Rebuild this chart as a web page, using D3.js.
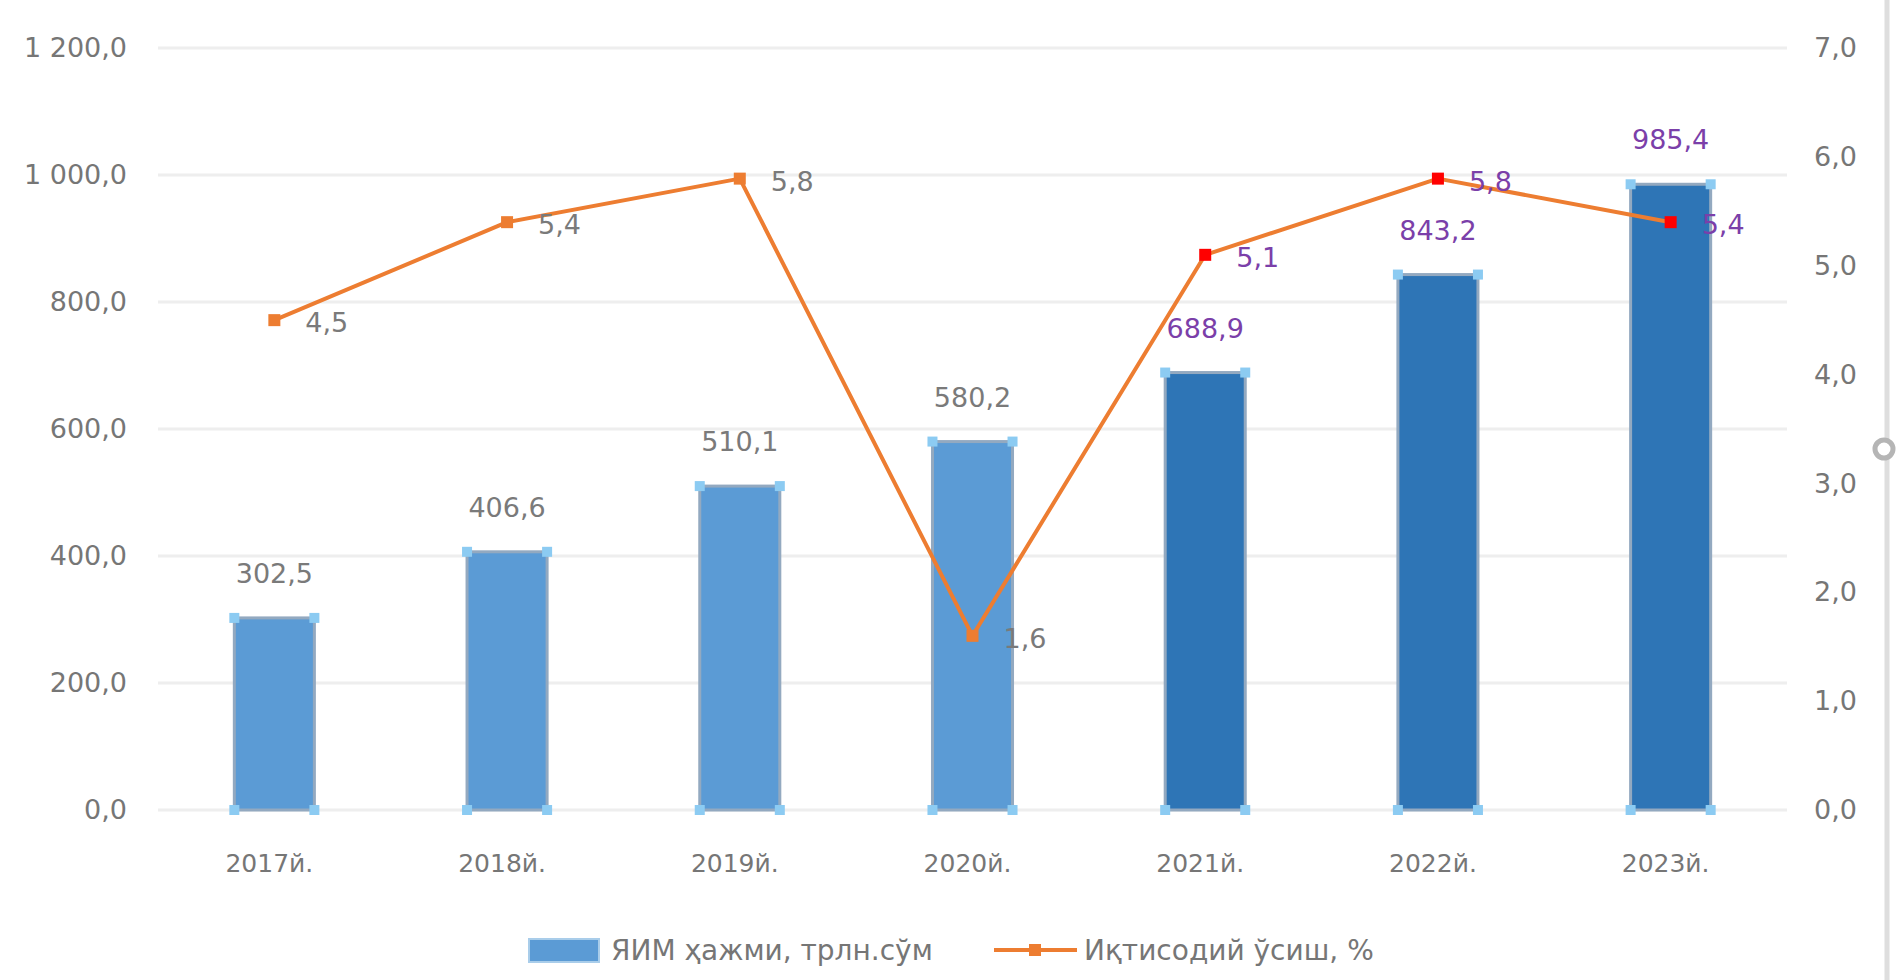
<!DOCTYPE html>
<html>
<head>
<meta charset="utf-8">
<script src="https://cdn.jsdelivr.net/npm/d3@7"></script>
<style>
  html, body { margin: 0; padding: 0; background: #ffffff; }
  svg { display: block; }
  text { font-family: "DejaVu Sans", "Liberation Sans", sans-serif; }
</style>
</head>
<body>
<svg id="chart" width="1896" height="980"></svg>
<script>
// ---- data ----
const categories = ["2017й.", "2018й.", "2019й.", "2020й.", "2021й.", "2022й.", "2023й."];
const gdpValues = [302.5, 406.6, 510.1, 580.2, 688.9, 843.2, 985.4];
const growthValues = [4.5, 5.4, 5.8, 1.6, 5.1, 5.8, 5.4];
const leftTicks = [0, 200, 400, 600, 800, 1000, 1200];
const rightTicks = [0, 1, 2, 3, 4, 5, 6, 7];
const seriesNames = ["ЯИМ ҳажми, трлн.сўм", "Иқтисодий ўсиш, %"];
const firstForecastIndex = 4;

// ---- layout ----
const W = 1896, H = 980;
const plot = { left: 158, right: 1787, top: 48, bottom: 810 };
const fmt = v => {
  const s = d3.format(",.1f")(v);
  return s.replace(/,/g, " ").replace(".", ",");
};
const fmt1 = v => d3.format(".1f")(v).replace(".", ",");

const svg = d3.select("#chart");

const x = d3.scaleBand().domain(categories)
  .range([plot.left, plot.right]).paddingInner(0.656).paddingOuter(0.328);
const y = d3.scaleLinear().domain([0, 1200]).range([plot.bottom, plot.top]);
const y2 = d3.scaleLinear().domain([0, 7]).range([plot.bottom, plot.top]);

const axisColor = "#767676";
const fontSize = 27;

// gridlines
svg.append("g").selectAll("line").data(leftTicks).join("line")
  .attr("x1", plot.left).attr("x2", plot.right)
  .attr("y1", d => y(d)).attr("y2", d => y(d))
  .attr("stroke", "#eeeeee").attr("stroke-width", 3);

// left axis
const leftAxis = d3.axisLeft(y).tickValues(leftTicks).tickFormat(fmt).tickSize(0).tickPadding(31);
const gl = svg.append("g").attr("transform", `translate(${plot.left},0)`).call(leftAxis);
gl.select(".domain").remove();
gl.selectAll("text").attr("font-size", fontSize).attr("fill", axisColor)
  .attr("font-family", "DejaVu Sans");

// right axis
const rightAxis = d3.axisRight(y2).tickValues(rightTicks).tickFormat(fmt1).tickSize(0).tickPadding(27);
const gr = svg.append("g").attr("transform", `translate(${plot.right},0)`).call(rightAxis);
gr.select(".domain").remove();
gr.selectAll("text").attr("font-size", fontSize).attr("fill", axisColor)
  .attr("font-family", "DejaVu Sans");

// bottom axis
const bottomAxis = d3.axisBottom(x).tickSize(0).tickPadding(44);
const gb = svg.append("g").attr("transform", `translate(0,${plot.bottom})`).call(bottomAxis);
gb.select(".domain").remove();
gb.selectAll("text").attr("font-size", 25).attr("fill", axisColor)
  .attr("font-family", "DejaVu Sans").attr("dx", -5);

// bars
const barColor = i => i >= firstForecastIndex ? "#2E75B6" : "#5B9BD5";
const bars = svg.append("g");
bars.selectAll("rect.bar").data(gdpValues).join("rect")
  .attr("class", "bar")
  .attr("x", (d, i) => x(categories[i]))
  .attr("y", d => y(d))
  .attr("width", x.bandwidth())
  .attr("height", d => y(0) - y(d))
  .attr("fill", (d, i) => barColor(i))
  .attr("stroke", "#93a9c0").attr("stroke-width", 3);

// selection-like corner handles
const corners = [];
gdpValues.forEach((d, i) => {
  const x0 = x(categories[i]), x1 = x0 + x.bandwidth();
  [[x0, y(d)], [x1, y(d)], [x0, y(0)], [x1, y(0)]].forEach(p => corners.push(p));
});
bars.selectAll("rect.handle").data(corners).join("rect")
  .attr("class", "handle")
  .attr("x", p => p[0] - 5).attr("y", p => p[1] - 5)
  .attr("width", 10).attr("height", 10)
  .attr("fill", "#8ccbf2");

// bar labels
const labelGray = "#7a7a7a";
const labelPurple = "#7b3fa9";
const labelColor = i => i >= firstForecastIndex ? labelPurple : labelGray;
svg.append("g").selectAll("text").data(gdpValues).join("text")
  .attr("x", (d, i) => x(categories[i]) + x.bandwidth() / 2)
  .attr("y", d => y(d) - 35)
  .attr("text-anchor", "middle")
  .attr("font-size", fontSize)
  .attr("fill", (d, i) => labelColor(i))
  .text(d => fmt(d));

// line
const cx = i => x(categories[i]) + x.bandwidth() / 2;
const line = d3.line().x((d, i) => cx(i)).y(d => y2(d));
svg.append("path").datum(growthValues)
  .attr("d", line).attr("fill", "none")
  .attr("stroke", "#ED7D31").attr("stroke-width", 4).attr("stroke-linejoin", "round");

// markers
svg.append("g").selectAll("rect").data(growthValues).join("rect")
  .attr("x", (d, i) => cx(i) - 6).attr("y", d => y2(d) - 6)
  .attr("width", 12).attr("height", 12)
  .attr("fill", (d, i) => i >= firstForecastIndex ? "#FF0000" : "#ED7D31");

// line labels
svg.append("g").selectAll("text").data(growthValues).join("text")
  .attr("x", (d, i) => cx(i) + 31)
  .attr("y", d => y2(d) + 12)
  .attr("font-size", fontSize)
  .attr("fill", (d, i) => labelColor(i))
  .text(d => fmt1(d));

// legend
const lg = svg.append("g");
lg.append("rect").attr("x", 529).attr("y", 939).attr("width", 70).attr("height", 23)
  .attr("fill", "#5B9BD5").attr("stroke", "#a9cdea").attr("stroke-width", 2);
lg.append("text").attr("x", 611).attr("y", 960).attr("font-size", 28)
  .attr("fill", axisColor).text(seriesNames[0]);
lg.append("line").attr("x1", 994).attr("x2", 1077).attr("y1", 950).attr("y2", 950)
  .attr("stroke", "#ED7D31").attr("stroke-width", 4);
lg.append("rect").attr("x", 1029).attr("y", 944).attr("width", 12).attr("height", 12)
  .attr("fill", "#ED7D31");
lg.append("text").attr("x", 1084).attr("y", 960).attr("font-size", 28)
  .attr("fill", axisColor).text(seriesNames[1]);

// right frame edge
svg.append("line").attr("x1", 1887).attr("x2", 1887).attr("y1", 0).attr("y2", H)
  .attr("stroke", "#dedede").attr("stroke-width", 5);
svg.append("circle").attr("cx", 1884).attr("cy", 449).attr("r", 9)
  .attr("fill", "#ffffff").attr("stroke", "#b5b5b5").attr("stroke-width", 5);
</script>
</body>
</html>
